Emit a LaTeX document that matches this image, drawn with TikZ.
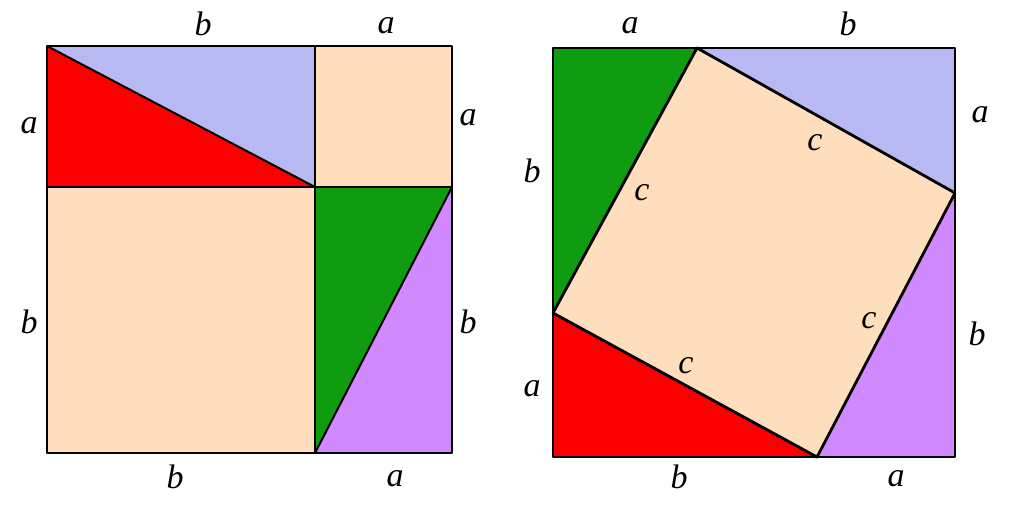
\documentclass[tikz,border=0pt]{standalone}
\usepackage{fontspec}
\setmainfont{Liberation Serif}
\begin{document}
\begin{tikzpicture}[x=1pt,y=-1pt,
  edge/.style={draw=black,line width=2.8pt,line join=round},
  lbl/.style={font=\fontsize{34}{34}\selectfont\itshape,inner sep=0pt},
]
\definecolor{bluec}{HTML}{B8B8F2}
\definecolor{redc}{HTML}{FA0000}
\definecolor{peachc}{HTML}{FFDEBD}
\definecolor{greenc}{HTML}{109C10}
\definecolor{purplec}{HTML}{D089FF}
\useasboundingbox (0,0) rectangle (1024,522);
% ---- left square
\coordinate (LTL) at (47,46);
\coordinate (LTM) at (315,46);
\coordinate (LTR) at (452,46);
\coordinate (LML) at (47,187);
\coordinate (LC) at (315,187);
\coordinate (LMR) at (452,187);
\coordinate (LBL) at (47,453);
\coordinate (LBM) at (315,453);
\coordinate (LBR) at (452,453);
\fill[bluec] (LTL) -- (LTM) -- (LC) -- cycle;
\fill[redc] (LTL) -- (LC) -- (LML) -- cycle;
\fill[peachc] (LTM) rectangle (LMR);
\fill[peachc] (LML) rectangle (LBM);
\fill[greenc] (LC) -- (LMR) -- (LBM) -- cycle;
\fill[purplec] (LMR) -- (LBR) -- (LBM) -- cycle;
\draw[edge] (LTL) rectangle (LBR);
\draw[edge] (LTM) -- (LBM);
\draw[edge] (LML) -- (LMR);
\draw[edge,line width=2pt] (LTL) -- (LC);
\draw[edge,line width=2pt] (LMR) -- (LBM);
% ---- right square
\coordinate (RTL) at (553,48);
\coordinate (RTR) at (955,48);
\coordinate (RBR) at (955,457);
\coordinate (RBL) at (553,457);
\coordinate (P1) at (697,48);
\coordinate (P2) at (955,193);
\coordinate (P3) at (817,457);
\coordinate (P4) at (553,313);
\fill[greenc] (RTL) -- (P1) -- (P4) -- cycle;
\fill[bluec] (P1) -- (RTR) -- (P2) -- cycle;
\fill[purplec] (P2) -- (RBR) -- (P3) -- cycle;
\fill[redc] (P4) -- (P3) -- (RBL) -- cycle;
\fill[peachc] (P1) -- (P2) -- (P3) -- (P4) -- cycle;
\draw[edge] (RTL) rectangle (RBR);
\draw[edge] (P1) -- (P2) -- (P3) -- (P4) -- cycle;
% ---- labels left
\node[lbl] (l1) at (203,24) {b};
\node[lbl] (l2) at (386,26) {a};
\node[lbl] (l3) at (29,126) {a};
\node[lbl] (l4) at (468,118) {a};
\node[lbl] (l5) at (29,322) {b};
\node[lbl] (l6) at (468,322) {b};
\node[lbl] (l7) at (175,477) {b};
\node[lbl] (l8) at (395,479) {a};
% ---- labels right
\node[lbl] (r1) at (630,26) {a};
\node[lbl] (r2) at (848,24) {b};
\node[lbl] (r3) at (980,115) {a};
\node[lbl] (r4) at (532,171) {b};
\node[lbl] (r5) at (642,193) {c};
\node[lbl] (r6) at (815,143) {c};
\node[lbl] (r7) at (869,321) {c};
\node[lbl] (r8) at (686,366) {c};
\node[lbl] (r9) at (977,334) {b};
\node[lbl] (r10) at (532,389) {a};
\node[lbl] (r11) at (679,477) {b};
\node[lbl] (r12) at (896,479) {a};
\end{tikzpicture}
\end{document}
